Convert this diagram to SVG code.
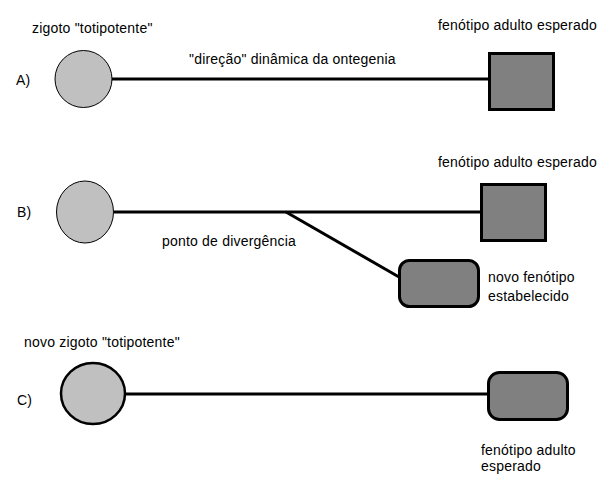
<svg xmlns="http://www.w3.org/2000/svg" width="609" height="496" viewBox="0 0 609 496">
<style>
text{font-family:"Liberation Sans",Arial,sans-serif;font-size:14px;fill:#000;letter-spacing:0.2px}
.z{fill:#c0c0c0;stroke:#000;stroke-width:1}
.zc{fill:#c0c0c0;stroke:#000;stroke-width:2.5}
.p{fill:#808080;stroke:#000;stroke-width:3}
.c{stroke:#000;stroke-width:3;fill:none}
</style>
<rect width="609" height="496" fill="#fff"/>
<g id="connectors">
<line class="c" x1="111" y1="79" x2="489" y2="79"/>
<line class="c" x1="114" y1="212" x2="481" y2="212"/>
<line class="c" x1="286" y1="212" x2="399" y2="277"/>
<line class="c" x1="125" y1="394" x2="488" y2="394"/>
</g>
<g id="labels">
<text x="16" y="85">A)</text>
<text x="17" y="217" font-size="13">B)</text>
<text x="17" y="405">C)</text>
<text x="189" y="64">"direção" dinâmica da ontegenia</text>
<text x="162" y="246">ponto de divergência</text>
</g>
<g id="zigotoA">
<circle class="z" cx="83.5" cy="79" r="28.5"/>
<text x="32" y="33">zigoto "totipotente"</text>
</g>
<g id="fenotipoA">
<rect class="p" x="489.5" y="53.5" width="64" height="56"/>
<text x="438" y="30">fenótipo adulto esperado</text>
</g>
<g id="zigotoB">
<ellipse class="z" cx="85" cy="212" rx="28.5" ry="31"/>
</g>
<g id="fenotipoB">
<rect class="p" x="481.5" y="184.5" width="64" height="56"/>
<text x="438" y="167">fenótipo adulto esperado</text>
</g>
<g id="novoFenotipoB">
<rect class="p" x="399.5" y="260.5" width="79" height="46" rx="10"/>
<text x="488" y="282">novo fenótipo</text>
<text x="488" y="301">estabelecido</text>
</g>
<g id="zigotoC">
<ellipse class="zc" cx="93" cy="393.5" rx="32" ry="30.5"/>
<text x="24" y="347">novo zigoto "totipotente"</text>
</g>
<g id="fenotipoC">
<rect class="p" x="488.5" y="372.5" width="79" height="47" rx="11"/>
<text x="481" y="455">fenótipo adulto</text>
<text x="481" y="471">esperado</text>
</g>
</svg>
